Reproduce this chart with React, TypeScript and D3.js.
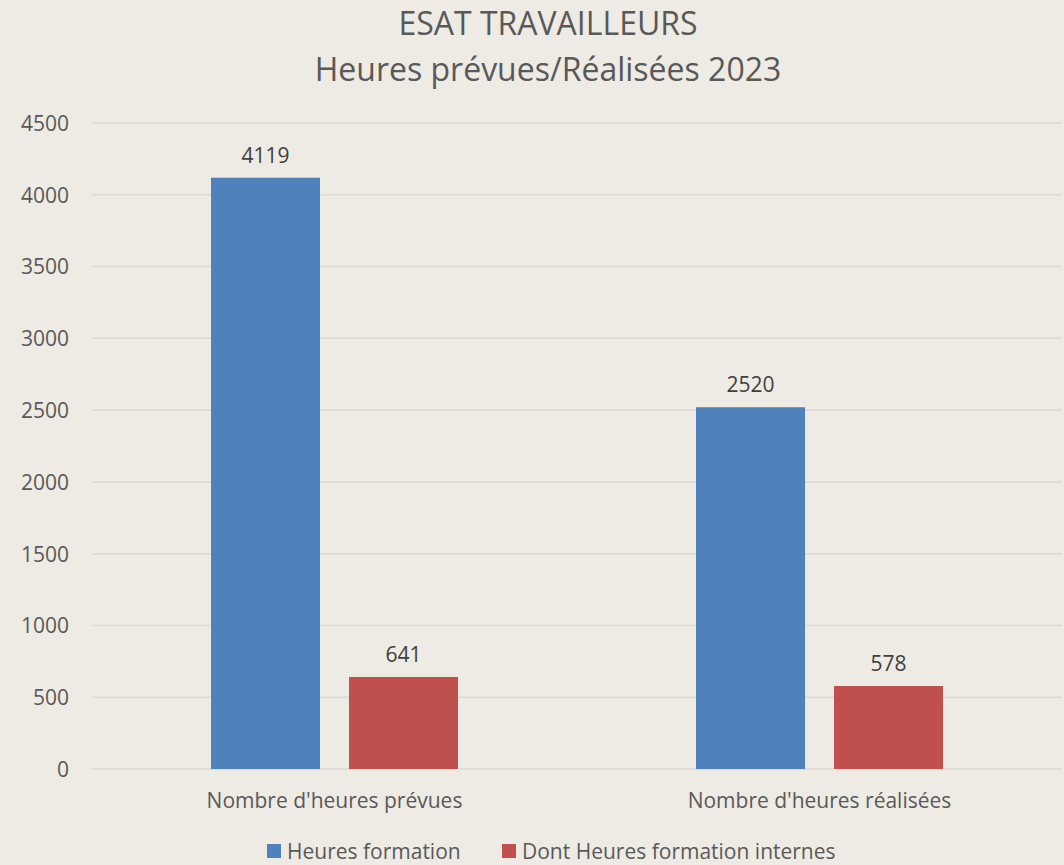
import React, { useEffect, useRef } from "react";
import * as d3 from "d3";

const categories = ["Nombre d'heures prévues", "Nombre d'heures réalisées"];
const seriesNames = ["Heures formation", "Dont Heures formation internes"];
const heuresFormation = [4119, 2520];
const heuresInternes = [641, 578];
const yTicks = [0, 500, 1000, 1500, 2000, 2500, 3000, 3500, 4000, 4500];
const colors = ["#4F81BD", "#C0504D"];

const App = () => {
  const svgRef = useRef<SVGSVGElement>(null);

  useEffect(() => {
    const w = 1064;
    const h = 865;
    const left = 92;
    const right = 1062;
    const top = 123;
    const bottom = 769;
    const font = "'Open Sans', sans-serif";

    const svg = d3.select(svgRef.current).attr("width", w).attr("height", h);
    svg.selectAll("*").remove();

    svg.append("rect").attr("width", w).attr("height", h).attr("fill", "#EEEBE4");

    // title
    const title = svg.append("g").attr("font-family", font).attr("fill", "#595959").attr("text-anchor", "middle");
    title.append("text").attr("x", 548).attr("y", 35).attr("font-size", 32).text("ESAT TRAVAILLEURS");
    title.append("text").attr("x", 548).attr("y", 81).attr("font-size", 32).text("Heures prévues/Réalisées 2023");

    const x0 = d3.scaleBand<string>().domain(categories).range([left, right]).paddingInner(0).paddingOuter(0);
    const x1 = d3
      .scaleBand<number>()
      .domain([0, 1])
      .range([119, x0.bandwidth() - 119])
      .paddingInner(0.21);
    const y = d3.scaleLinear().domain([0, 4500]).range([bottom, top]);

    // gridlines
    svg
      .append("g")
      .selectAll("line")
      .data(yTicks)
      .join("line")
      .attr("x1", left)
      .attr("x2", right)
      .attr("y1", (d) => y(d))
      .attr("y2", (d) => y(d))
      .attr("stroke", "#D9D9D9")
      .attr("stroke-width", 1.5);

    // y axis labels
    const yAxis = d3.axisLeft(y).tickValues(yTicks).tickFormat(d3.format("d")).tickSize(0).tickPadding(0);
    const ya = svg.append("g").attr("transform", "translate(69,0)").call(yAxis);
    ya.select(".domain").remove();
    ya.selectAll("text").attr("font-family", font).attr("font-size", 21).attr("fill", "#595959").attr("dy", "0.35em");

    // bars
    const series = [heuresFormation, heuresInternes];
    const groups = svg
      .append("g")
      .selectAll("g")
      .data(categories)
      .join("g")
      .attr("transform", (d) => `translate(${x0(d)},0)`);

    groups.each(function (cat, ci) {
      const g = d3.select(this);
      series.forEach((vals, si) => {
        const v = vals[ci];
        g.append("rect")
          .attr("x", x1(si)!)
          .attr("y", y(v))
          .attr("width", x1.bandwidth())
          .attr("height", y(0) - y(v))
          .attr("fill", colors[si]);
        g.append("text")
          .attr("x", x1(si)! + x1.bandwidth() / 2)
          .attr("y", y(v) - 15)
          .attr("text-anchor", "middle")
          .attr("font-family", font)
          .attr("font-size", 21)
          .attr("fill", "#404040")
          .text(v);
      });
    });

    // x axis labels
    const xAxis = d3.axisBottom(x0).tickSize(0).tickPadding(0);
    const xa = svg.append("g").attr("transform", `translate(0,${bottom})`).call(xAxis);
    xa.select(".domain").remove();
    xa.selectAll("text").attr("font-family", font).attr("font-size", 21).attr("fill", "#595959").attr("dy", 0).attr("y", 39);

    // legend
    const legendX = [267, 502];
    const legend = svg
      .append("g")
      .selectAll("g")
      .data(seriesNames)
      .join("g")
      .attr("transform", (d, i) => `translate(${legendX[i]},844)`);
    legend.append("rect").attr("width", 14).attr("height", 14).attr("fill", (d, i) => colors[i]);
    legend
      .append("text")
      .attr("x", 20)
      .attr("y", 15)
      .attr("font-family", font)
      .attr("font-size", 21)
      .attr("fill", "#595959")
      .text((d) => d);
  }, []);

  return (
    <div style={{ position: "absolute", left: 0, top: 0 }}>
      <svg ref={svgRef} style={{ display: "block" }}></svg>
    </div>
  );
};

export default App;
